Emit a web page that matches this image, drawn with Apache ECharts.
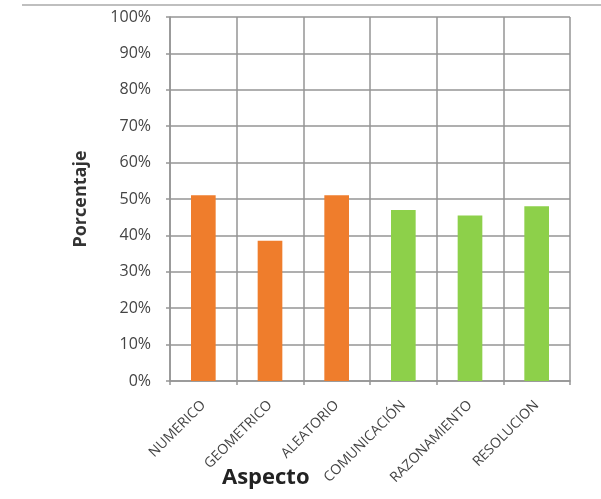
<!DOCTYPE html>
<html>
<head>
<meta charset="utf-8">
<script src="https://cdn.jsdelivr.net/npm/echarts@6/dist/echarts.min.js"></script>
<style>html,body{margin:0;padding:0;background:#fff;}#c{width:601px;height:499px;}</style>
</head>
<body>
<div id="c"></div>
<script>
const categories = ['NUMERICO', 'GEOMETRICO', 'ALEATORIO', 'COMUNICACIÓN', 'RAZONAMIENTO', 'RESOLUCION'];
const values = [51, 38.5, 51, 47, 45.5, 48];
const groups = ['a', 'a', 'a', 'b', 'b', 'b'];
const yTicks = [0, 10, 20, 30, 40, 50, 60, 70, 80, 90, 100];

const groupColor = { a: '#EF7D2C', b: '#8DD04A' };
const font = '"Open Sans", sans-serif';
const chart = echarts.init(document.getElementById('c'));
chart.setOption({
  animation: false,
  backgroundColor: '#fff',
  grid: { left: 170, right: 31, top: 17, bottom: 118, containLabel: false },
  xAxis: {
    type: 'category',
    data: categories,
    boundaryGap: true,
    axisLine: { show: true, lineStyle: { color: '#959595', width: 1.5 } },
    axisTick: { show: true, length: 4, lineStyle: { color: '#959595', width: 1.5 } },
    splitLine: { show: true, lineStyle: { color: '#959595', width: 1.5 } },
    axisLabel: { rotate: 45, interval: 0, margin: 22, color: '#444', fontSize: 14, fontFamily: font }
  },
  yAxis: {
    type: 'value',
    min: yTicks[0],
    max: yTicks[yTicks.length - 1],
    interval: 10,
    name: 'Porcentaje',
    nameLocation: 'middle',
    nameGap: 80,
    nameTextStyle: { color: '#333', fontSize: 18, fontWeight: 'bold', fontFamily: font },
    axisLine: { show: true, lineStyle: { color: '#959595', width: 1.5 } },
    axisTick: { show: true, length: 4, lineStyle: { color: '#959595', width: 1.5 } },
    splitLine: { show: true, lineStyle: { color: '#959595', width: 1.5 } },
    axisLabel: { formatter: '{value}%', margin: 19, color: '#444', fontSize: 16, fontFamily: font }
  },
  series: [{
    type: 'bar',
    barWidth: '37%',
    data: values.map((v, i) => ({ value: v, itemStyle: { color: groupColor[groups[i]] } }))
  }],
  graphic: [
    { type: 'line', shape: { x1: 22, y1: 5, x2: 601, y2: 5 }, style: { stroke: '#aaa', lineWidth: 1.5 } },
    { type: 'text', left: 222, top: 467, style: { text: 'Aspecto', fill: '#222', font: 'bold 22px ' + font } }
  ]
});
</script>
</body>
</html>
